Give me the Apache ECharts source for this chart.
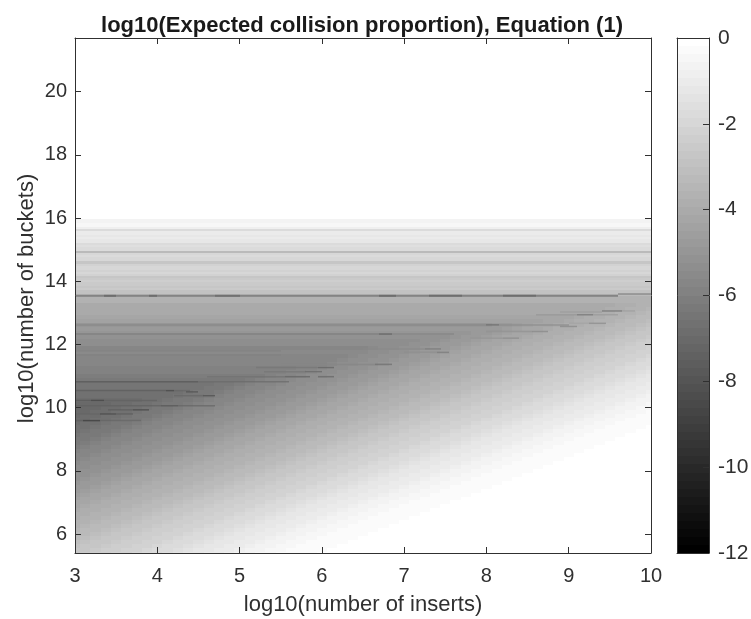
<!DOCTYPE html>
<html><head><meta charset="utf-8">
<script src="https://cdn.jsdelivr.net/npm/echarts@6/dist/echarts.min.js"></script>
<style>html,body{margin:0;padding:0;background:#fff}#c{width:751px;height:619px}</style>
</head><body><div id="c"></div>
<script>
// All grey values are -10 x log10(proportion): 27 means -2.7
const columnStartX = 3, columnStepX = 0.125, columnCount = 57;
const rowStartY = 5.375, rowStepY = 0.125;
// lower rows, read from x = 3 rightwards; anything past the end of a row is white
const lowRows = [
[27,26,24,23,22,21,19,18,17,16,14,13,12,11,10,8,7,6,5,4,3,3,2,2,1,1,1],
[28,27,26,24,23,22,21,19,18,17,16,14,13,12,11,10,8,7,6,5,4,3,3,2,2,1,1,1],
[29,28,27,26,24,23,22,21,19,18,17,16,14,13,12,11,10,8,7,6,5,4,3,3,2,2,1,1,1],
[31,29,28,27,26,24,23,22,21,19,18,17,16,14,13,12,11,10,8,7,6,5,4,3,3,2,2,1,1,1],
[32,31,29,28,27,26,24,23,22,21,19,18,17,16,14,13,12,11,10,8,7,6,5,4,3,3,2,2,1,1,1],
[33,32,31,29,28,27,26,24,23,22,21,19,18,17,16,14,13,12,11,10,8,7,6,5,4,3,3,2,2,1,1,1],
[34,33,32,31,29,28,27,26,24,23,22,21,19,18,17,16,14,13,12,11,10,8,7,6,5,4,3,3,2,2,1,1,1],
[36,34,33,32,31,29,28,27,26,24,23,22,21,19,18,17,16,14,13,12,11,10,8,7,6,5,4,3,3,2,2,1,1,1],
[37,36,34,33,32,31,29,28,27,26,24,23,22,21,19,18,17,16,14,13,12,11,10,8,7,6,5,4,3,3,2,2,1,1,1],
[38,37,36,34,33,32,31,29,28,27,26,24,23,22,21,19,18,17,16,14,13,12,11,10,8,7,6,5,4,3,3,2,2,1,1,1],
[39,38,37,36,34,33,32,31,29,28,27,26,24,23,22,21,19,18,17,16,14,13,12,11,10,8,7,6,5,4,3,3,2,2,1,1,1],
[41,39,38,37,36,34,33,32,31,29,28,27,26,24,23,22,21,19,18,17,16,14,13,12,11,10,8,7,6,5,4,3,3,2,2,1,1,1],
[42,41,39,38,37,36,34,33,32,31,29,28,27,26,24,23,22,21,19,18,17,16,14,13,12,11,10,8,7,6,5,4,3,3,2,2,1,1,1],
[43,42,41,39,38,37,36,34,33,32,31,29,28,27,26,24,23,22,21,19,18,17,16,14,13,12,11,10,8,7,6,5,4,3,3,2,2,1,1,1],
[44,43,42,41,39,38,37,36,34,33,32,31,29,28,27,26,24,23,22,21,19,18,17,16,14,13,12,11,10,8,7,6,5,4,3,3,2,2,1,1,1],
[46,44,43,42,41,39,38,37,36,34,33,32,31,29,28,27,26,24,23,22,21,19,18,17,16,14,13,12,11,10,8,7,6,5,4,3,3,2,2,1,1,1],
[47,46,44,43,42,41,39,38,37,36,34,33,32,31,29,28,27,26,24,23,22,21,19,18,17,16,14,13,12,11,10,8,7,6,5,4,3,3,2,2,1,1,1],
[48,47,46,44,43,42,41,39,38,37,36,34,33,32,31,29,28,27,26,24,23,22,21,19,18,17,16,14,13,12,11,10,8,7,6,5,4,3,3,2,2,1,1,1],
[49,48,47,46,44,43,42,41,39,38,37,36,34,33,32,31,29,28,27,26,24,23,22,21,19,18,17,16,14,13,12,11,10,8,7,6,5,4,3,3,2,2,1,1,1],
[51,49,48,47,46,44,43,42,41,39,38,37,36,34,33,32,31,29,28,27,26,24,23,22,21,19,18,17,16,14,13,12,11,10,8,7,6,5,4,3,3,2,2,1,1,1],
[52,51,49,48,47,46,44,43,42,41,39,38,37,36,34,33,32,31,29,28,27,26,24,23,22,21,19,18,17,16,14,13,12,11,10,8,7,6,5,4,3,3,2,2,1,1,1],
[53,52,51,49,48,47,46,44,43,42,41,39,38,37,36,34,33,32,31,29,28,27,26,24,23,22,21,19,18,17,16,14,13,12,11,10,8,7,6,5,4,3,3,2,2,1,1,1],
[54,53,52,51,49,48,47,46,44,43,42,41,39,38,37,36,34,33,32,31,29,28,27,26,24,23,22,21,19,18,17,16,14,13,12,11,10,8,7,6,5,4,3,3,2,2,1,1,1],
[56,54,53,52,51,49,48,47,46,44,43,42,41,39,38,37,36,34,33,32,31,29,28,27,26,24,23,22,21,19,18,17,16,14,13,12,11,10,8,7,6,5,4,3,3,2,2,1,1,1],
[57,56,54,53,52,51,49,48,47,46,44,43,42,41,39,38,37,36,34,33,32,31,29,28,27,26,24,23,22,21,19,18,17,16,14,13,12,11,10,8,7,6,5,4,3,3,2,2,1,1,1],
[58,57,56,54,53,52,51,49,48,47,46,44,43,42,41,39,38,37,36,34,33,32,31,29,28,27,26,24,23,22,21,19,18,17,16,14,13,12,11,10,8,7,6,5,4,3,3,2,2,1,1,1],
[59,58,57,56,54,53,52,51,49,48,47,46,44,43,42,41,39,38,37,36,34,33,32,31,29,28,27,26,24,23,22,21,19,18,17,16,14,13,12,11,10,8,7,6,5,4,3,3,2,2,1,1,1],
[61,59,58,57,56,54,53,52,51,49,48,47,46,44,43,42,41,39,38,37,36,34,33,32,31,29,28,27,26,24,23,22,21,19,18,17,16,14,13,12,11,10,8,7,6,5,4,3,3,2,2,1,1,1],
[62,61,59,58,57,56,54,53,52,51,49,48,47,46,44,43,42,41,39,38,37,36,34,33,32,31,29,28,27,26,24,23,22,21,19,18,17,16,14,13,12,11,10,8,7,6,5,4,3,3,2,2,1,1,1],
[63,62,61,59,58,57,56,54,53,52,51,49,48,47,46,44,43,42,41,39,38,37,36,34,33,32,31,29,28,27,26,24,23,22,21,19,18,17,16,14,13,12,11,10,8,7,6,5,4,3,3,2,2,1,1,1],
[64,63,62,61,59,58,57,56,54,53,52,51,49,48,47,46,44,43,42,41,39,38,37,36,34,33,32,31,29,28,27,26,24,23,22,21,19,18,17,16,14,13,12,11,10,8,7,6,5,4,3,3,2,2,1,1,1],
[66,64,63,62,61,59,58,57,56,54,53,52,51,49,48,47,46,44,43,42,41,39,38,37,36,34,33,32,31,29,28,27,26,24,23,22,21,19,18,17,16,14,13,12,11,10,8,7,6,5,4,3,3,2,2,1,1],
[67,66,64,63,62,61,59,58,57,56,54,53,52,51,49,48,47,46,44,43,42,41,39,38,37,36,34,33,32,31,29,28,27,26,24,23,22,21,19,18,17,16,14,13,12,11,10,8,7,6,5,4,3,3,2,2,1],
[68,67,66,64,63,62,61,59,58,57,56,54,53,52,51,49,48,47,46,44,43,42,41,39,38,37,36,34,33,32,31,29,28,27,26,24,23,22,21,19,18,17,16,14,13,12,11,10,8,7,6,5,4,3,3,2,2],
[69,68,67,66,64,63,62,61,59,58,57,56,54,53,52,51,49,48,47,46,44,43,42,41,39,38,37,36,34,33,32,31,29,28,27,26,24,23,22,21,19,18,17,16,14,13,12,11,10,8,7,6,5,4,3,3,2],
[71,69,68,67,66,64,63,62,61,59,58,57,56,54,53,52,51,49,48,47,46,44,43,42,41,39,38,37,36,34,33,32,31,29,28,27,26,24,23,22,21,19,18,17,16,14,13,12,11,10,8,7,6,5,4,3,3],
[71,71,69,68,67,66,64,63,62,61,59,58,57,56,54,53,52,51,49,48,47,46,44,43,42,41,39,38,37,36,34,33,32,31,29,28,27,26,24,23,22,21,19,18,17,16,14,13,12,11,10,8,7,6,5,4,3],
[71,71,71,69,68,67,66,64,63,62,61,59,58,57,56,54,53,52,51,49,48,47,46,44,43,42,41,39,38,37,36,34,33,32,31,29,28,27,26,24,23,22,21,19,18,17,16,14,13,12,11,10,8,7,6,5,4]
];
// upper rows: a flat level from the left, then the listed cells ending at x = 10
const highFloors = [70,68,67,66,65,64,63,61,60,59,58,57,58,55,57,54,53,51,50,47,49,44,43,40,41,40,37,36];
const highTails = [
[69,68,67,66,64,63,62,61,59,58,57,56,54,53,52,51,49,48,47,46,44,43,42,41,39,38,37,36,34,33,32,31,29,28,27,26,24,23,22,21,19,18,17,16,14,13,12,11,10,8,7,6,5],
[67,66,64,63,62,61,59,58,57,56,54,53,52,51,49,48,47,46,44,43,42,41,39,38,37,36,34,33,32,31,29,28,27,26,24,23,22,21,19,18,17,16,14,13,12,11,10,8,7,6],
[66,64,63,62,61,59,58,57,56,54,53,52,51,49,48,47,46,44,43,42,41,39,38,37,36,34,33,32,31,29,28,27,26,24,23,22,21,19,18,17,16,14,13,12,11,10,8,7],
[64,63,62,61,59,58,57,56,54,53,52,51,49,48,47,46,44,43,42,41,39,38,37,36,34,33,32,31,29,28,27,26,24,23,22,21,19,18,17,16,14,13,12,11,10,8],
[64,63,62,61,59,58,57,56,54,53,52,51,49,48,47,46,44,43,42,41,39,38,37,36,34,33,32,31,29,28,27,26,24,23,22,21,19,18,17,16,14,13,12,11,10],
[63,62,61,59,58,57,56,54,53,52,51,49,48,47,46,44,43,42,41,39,38,37,36,34,33,32,31,29,28,27,26,24,23,22,21,19,18,17,16,14,13,12,11],
[62,61,59,58,57,56,54,53,52,51,49,48,47,46,44,43,42,41,39,38,37,36,34,33,32,31,29,28,27,26,24,23,22,21,19,18,17,16,14,13,12],
[59,58,57,56,54,53,52,51,49,48,47,46,44,43,42,41,39,38,37,36,34,33,32,31,29,28,27,26,24,23,22,21,19,18,17,16,14,13],
[59,58,57,56,54,53,52,51,49,48,47,46,44,43,42,41,39,38,37,36,34,33,32,31,29,28,27,26,24,23,22,21,19,18,17,16,14],
[58,57,56,54,53,52,51,49,48,47,46,44,43,42,41,39,38,37,36,34,33,32,31,29,28,27,26,24,23,22,21,19,18,17,16],
[57,56,54,53,52,51,49,48,47,46,44,43,42,41,39,38,37,36,34,33,32,31,29,28,27,26,24,23,22,21,19,18,17],
[56,54,53,52,51,49,48,47,46,44,43,42,41,39,38,37,36,34,33,32,31,29,28,27,26,24,23,22,21,19,18],
[57,56,54,53,52,51,49,48,47,46,44,43,42,41,39,38,37,36,34,33,32,31,29,28,27,26,24,23,22,21,19],
[54,53,52,51,49,48,47,46,44,43,42,41,39,38,37,36,34,33,32,31,29,28,27,26,24,23,22,21],
[56,54,53,52,51,49,48,47,46,44,43,42,41,39,38,37,36,34,33,32,31,29,28,27,26,24,23,22],
[53,52,51,49,48,47,46,44,43,42,41,39,38,37,36,34,33,32,31,29,28,27,26,24,23],
[52,51,49,48,47,46,44,43,42,41,39,38,37,36,34,33,32,31,29,28,27,26,24],
[49,48,47,46,44,43,42,41,39,38,37,36,34,33,32,31,29,28,27,26],
[49,48,47,46,44,43,42,41,39,38,37,36,34,33,32,31,29,28,27],
[46,44,43,42,41,39,38,37,36,34,33,32,31,29,28],
[48,47,46,44,43,42,41,39,38,37,36,34,33,32,31,29],
[43,42,41,39,38,37,36,34,33,32,31],
[42,41,39,38,37,36,34,33,32],
[39,38,37,36,34,33],
[39,38,37,36,34],
[39,38,37,36],
[],
[]
];
// horizontal bands above 13.5, the same all the way across
const bandY = [13.5625,13.625,13.6875,13.75,13.8125,13.875,13.9375,14,14.0625,14.125,14.1875,14.25,14.3125,14.375,14.4375,14.5,14.5625,14.625,14.6875,14.75,14.8125,14.875,14.9375,15,15.0625,15.125,15.1875,15.25,15.3125,15.375,15.4375,15.5,15.5625,15.625,15.6875,15.75,15.8125,15.875,15.9375];
const bandValues = [32,29,30,25,28,25,26,24,25,28,22,20,21,20,20,22,27,27,20,19,18,20,32,18,17,16,17,12,12,11,13,11,11,17,8,5,5,6,7];
// thin dark streaks
const streakY  = [13.54,13.6,13.54,13.54,13.54,13.54,13.54,13.54,12.62,12.62,12.62,12.33,12.33,12.33,13.06,13.03,13.06,12.94,12.94,12.94,12.67,12.67,12.57,12.41,12.41,12.2,12.2,11.86,11.86,11.75,11.75,11.8,11.67,11.37,11.37,11.27,11.27,11.14,11.14,10.98,10.98,10.98,10.82,10.82,10.54,10.54,10.54,10.5,10.38,10.38,10.23,10.23,10.23,10.06,10.06,10.06,9.93,9.93,9.8,9.8,9.8,9.59,9.59,9.59];
const streakX0 = [3,9.6,3.35,3.9,4.7,6.7,7.3,8.2,3,8,8.15,3,6.7,6.85,9.4,8.9,9.65,8.6,9.1,9.3,9.25,9,8.9,8.55,8,8.2,7.8,7.25,6.5,7.4,7,3,3,6.65,5.5,5.2,5.95,5.8,5.3,5.55,5.95,4.6,3,4.5,3,4.1,4.2,4.35,4.55,4.2,3,3.2,3.35,4.05,3,4.25,3.7,3.4,3.3,3,3.5,3.1,3,3.3];
const streakX1 = [9.6,10,3.5,4,5,6.9,7.7,8.6,8,8.15,9,6.7,6.85,7.6,9.65,9.4,9.8,9.1,9.3,9.6,9.45,9.25,9.1,8.75,8.55,8.4,8.2,7.45,7.25,7.55,7.4,5.5,5.5,6.85,6.65,5.95,6.15,6,5.8,5.85,6.15,5.55,4.5,5.6,4.1,4.2,4.4,4.5,4.7,4.55,3.2,3.35,4,4.25,4.05,4.7,3.9,3.7,3.5,3.3,3.7,3.3,3.1,3.8];
const streakValues = [68,56,72,73,71,73,72,72,58,70,55,62,78,60,66,48,46,50,64,48,56,45,58,58,52,56,50,62,56,62,54,60,60,68,58,64,74,72,64,74,72,66,80,70,76,88,72,82,84,72,78,90,74,80,74,72,88,76,86,72,76,92,76,72];
const yTickValues = [6,8,10,12,14,16,18,20];
const colorbarTicks = [-12,-10,-8,-6,-4,-2,0];
const titleText = 'log10(Expected collision proportion), Equation (1)';
const xName = 'log10(number of inserts)', yName = 'log10(number of buckets)';

const FONT = '"Liberation Sans", Arial, sans-serif', INK = '#303030';
const LEVELS = 64;
function grey(v){ // v = log10 value, -12..0, MATLAB 64-level gray map
  let k = Math.floor((v + 12) / 12 * LEVELS); k = Math.max(0, Math.min(LEVELS - 1, k));
  const g = Math.round(k / (LEVELS - 1) * 255); return 'rgb(' + g + ',' + g + ',' + g + ')';
}
const cells = [];
const halfX = columnStepX / 2, halfY = rowStepY / 2;
lowRows.forEach((row, r) => {
  const y = rowStartY + r * rowStepY;
  row.forEach((t, c) => { const x = columnStartX + c * columnStepX;
    cells.push([x - halfX, x + halfX, y - halfY, y + halfY, -t / 10, 0, 1]); });
});
highFloors.forEach((f, r) => {
  const y = rowStartY + (lowRows.length + r) * rowStepY, tail = highTails[r], first = columnCount - tail.length;
  cells.push([3, columnStartX + (first - 0.5) * columnStepX, y - halfY, y + halfY, -f / 10, 0, 1]);
  tail.forEach((t, i) => { const x = columnStartX + (first + i) * columnStepX;
    cells.push([x - halfX, x + halfX, y - halfY, y + halfY, -t / 10, 0, 1]); });
});
bandY.forEach((y, i) => cells.push([3, 10, y - 0.03125, y + 0.03125, -bandValues[i] / 10, 0, 1]));
streakY.forEach((y, i) => cells.push([streakX0[i], streakX1[i], y, y, -streakValues[i] / 10, i < 8 ? 2 : 1.5, 0.7]));

const barCells = [];
for (let k = 0; k < LEVELS; k++) {
  const lo = -12 + k * 12 / LEVELS;
  barCells.push([0, 1, lo, lo + 12 / LEVELS, lo + 6 / LEVELS, 0, 1]);
}
function renderRect(params, api) {
  const a = api.coord([api.value(0), api.value(3)]), b = api.coord([api.value(1), api.value(2)]);
  const thin = api.value(5), cs = params.coordSys;
  let x0 = Math.round(a[0]), x1 = Math.round(b[0]), y0 = Math.round(a[1]), y1 = Math.round(b[1]);
  if (thin) { y0 = a[1] - thin / 2; y1 = a[1] + thin / 2; }
  x0 = Math.max(x0, cs.x); x1 = Math.min(x1, cs.x + cs.width);
  y0 = Math.max(y0, cs.y); y1 = Math.min(y1, cs.y + cs.height);
  if (x1 <= x0 || y1 <= y0) return null;
  return { type: 'rect', shape: { x: x0, y: y0, width: x1 - x0, height: y1 - y0 },
    style: { fill: grey(api.value(4)), stroke: null, opacity: api.value(6) } };
}
const line = { show: true, onZero: false, lineStyle: { color: INK, width: 1 } };
const label = { color: INK, fontFamily: FONT, fontSize: 20 };
const nameStyle = { color: INK, fontFamily: FONT, fontSize: 22 };
const noTick = { show: false };
const chart = echarts.init(document.getElementById('c'), null, { renderer: 'canvas' });
chart.setOption({
  animation: false, backgroundColor: '#fff',
  title: { text: titleText, left: 357, top: 10, textAlign: 'center',
    textStyle: { fontFamily: FONT, fontSize: 22, fontWeight: 'bold', color: '#1a1a1a' } },
  grid: [{ left: 75, top: 38, width: 576, height: 515, outerBoundsMode: 'none' },
         { left: 677, top: 38, width: 32, height: 515, outerBoundsMode: 'none' }],
  xAxis: [
    { gridIndex: 0, type: 'value', min: 3, max: 10, interval: 1, position: 'bottom', z: 5, axisLine: line,
      axisTick: { inside: true, length: 6, lineStyle: { color: INK } }, axisLabel: { ...label, margin: 13 }, splitLine: noTick,
      name: xName, nameLocation: 'middle', nameGap: 41, nameMoveOverlap: false, nameTextStyle: nameStyle },
    { gridIndex: 0, type: 'value', min: 3, max: 10, interval: 1, position: 'top', z: 5, axisLine: line,
      axisTick: { inside: true, length: 6, lineStyle: { color: INK } }, axisLabel: noTick, splitLine: noTick },
    { gridIndex: 1, type: 'value', min: 0, max: 1, position: 'bottom', z: 5, axisLine: line, axisTick: noTick, axisLabel: noTick, splitLine: noTick },
    { gridIndex: 1, type: 'value', min: 0, max: 1, position: 'top', z: 5, axisLine: line, axisTick: noTick, axisLabel: noTick, splitLine: noTick }
  ],
  yAxis: [
    { gridIndex: 0, type: 'value', min: 5.4, max: 21.7, position: 'left', z: 5, axisLine: line,
      axisTick: { inside: true, length: 6, customValues: yTickValues, lineStyle: { color: INK } },
      axisLabel: { ...label, margin: 8, customValues: yTickValues }, splitLine: noTick,
      name: yName, nameLocation: 'middle', nameGap: 37, nameMoveOverlap: false,
      nameTextStyle: { ...nameStyle, padding: [0, 6, 0, 0] } },
    { gridIndex: 0, type: 'value', min: 5.4, max: 21.7, position: 'right', z: 5, axisLine: line,
      axisTick: { inside: true, length: 6, customValues: yTickValues, lineStyle: { color: INK } },
      axisLabel: noTick, splitLine: noTick },
    { gridIndex: 1, type: 'value', min: -12, max: 0, interval: 2, position: 'left', z: 5, axisLine: line, axisTick: noTick, axisLabel: noTick, splitLine: noTick },
    { gridIndex: 1, type: 'value', min: -12, max: 0, interval: 2, position: 'right', z: 5, axisLine: line,
      axisTick: { inside: true, length: 6, lineStyle: { color: INK } },
      axisLabel: { ...label, fontSize: 21, margin: 9, padding: [4, 0, 0, 0], customValues: colorbarTicks }, splitLine: noTick }
  ],
  series: [
    { type: 'custom', xAxisIndex: 0, yAxisIndex: 0, data: cells, renderItem: renderRect, progressive: 0, silent: true,
      encode: { x: [0, 1], y: [2, 3] } },
    { type: 'custom', xAxisIndex: 2, yAxisIndex: 2, data: barCells, renderItem: renderRect, progressive: 0, silent: true,
      encode: { x: [0, 1], y: [2, 3] } }
  ]
});
</script></body></html>
